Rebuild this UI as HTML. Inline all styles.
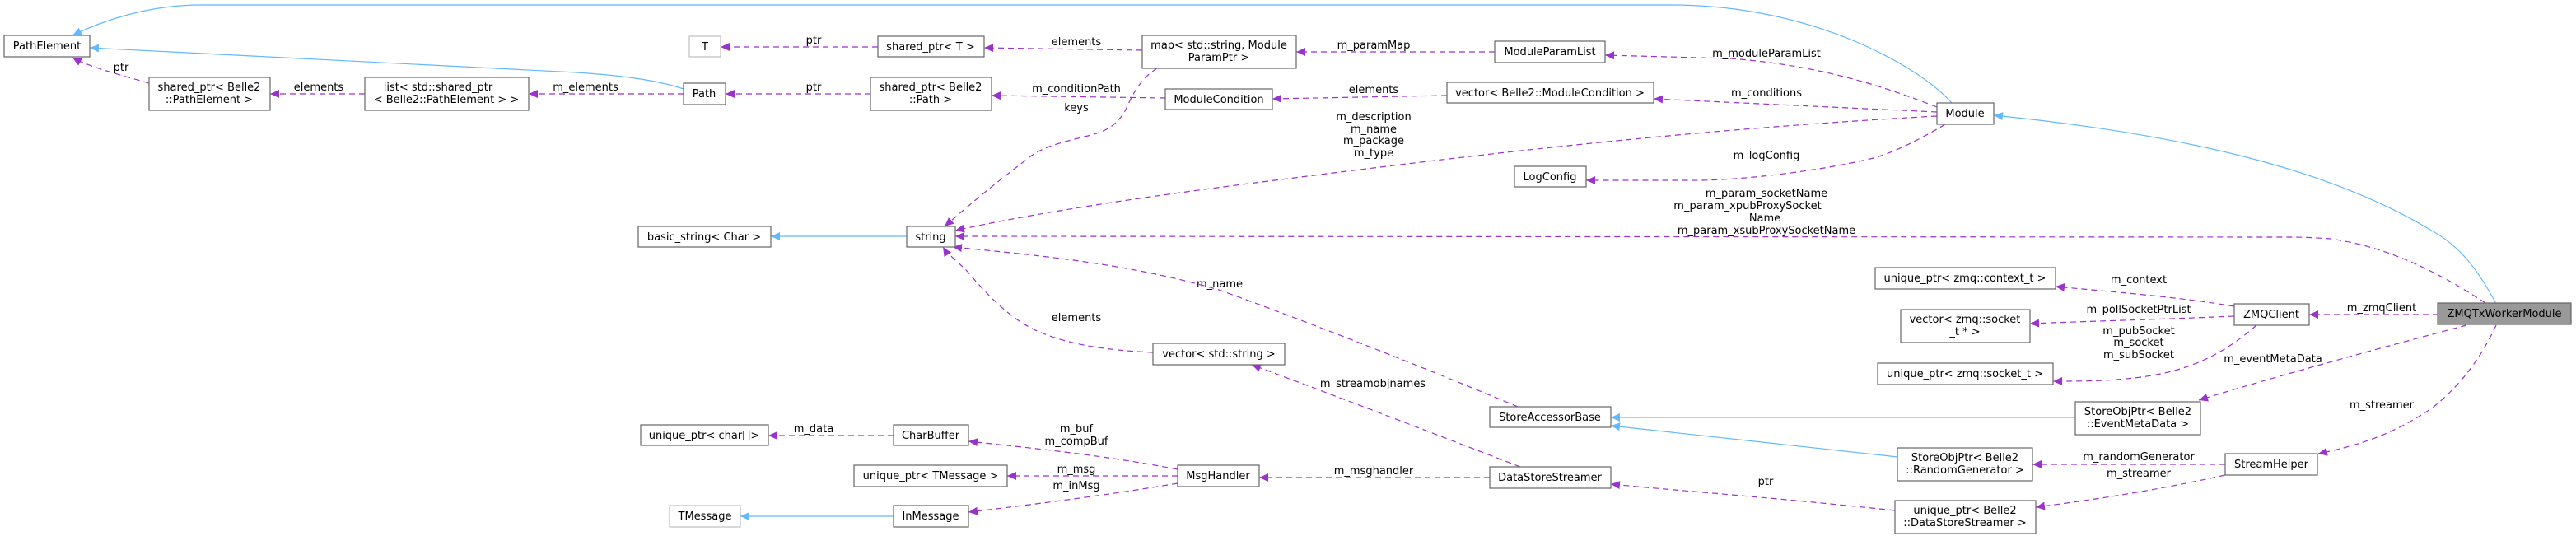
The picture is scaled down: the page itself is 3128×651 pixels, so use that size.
<!DOCTYPE html>
<html><head><meta charset="utf-8"><style>
html,body{margin:0;padding:0;background:#fff;}
svg{display:block;}
text{font-family:"DejaVu Sans","Liberation Sans",sans-serif;font-size:13px;fill:#000;}
.n{fill:#fff;stroke:#666;stroke-width:1.2;}
.g{fill:#fff;stroke:#bfbfbf;stroke-width:1.2;}
.b{fill:none;stroke:#63b8ff;stroke-width:1.2;}
.p{fill:none;stroke:#9a32cd;stroke-width:1.2;stroke-dasharray:7,5;}
</style></head><body>
<svg width="3128" height="651" viewBox="0 0 3128 651" xmlns="http://www.w3.org/2000/svg">
<defs>
<marker id="ab" markerWidth="12" markerHeight="10" refX="11" refY="5" orient="auto" markerUnits="userSpaceOnUse"><path d="M0,0 L11,5 L0,10 z" fill="#63b8ff"/></marker>
<marker id="ap" markerWidth="12" markerHeight="10" refX="11" refY="5" orient="auto" markerUnits="userSpaceOnUse"><path d="M0,0 L11,5 L0,10 z" fill="#9a32cd"/></marker>
</defs>

<!-- blue edges -->
<path class="b" marker-end="url(#ab)" d="M2370,125 C2330,80 2200,6 2030,6 L244,6 C180,6 125,25 88,43"/>
<path class="b" marker-end="url(#ab)" d="M830,108 C800,98 760,92 700,88 L109,58"/>
<path class="b" marker-end="url(#ab)" d="M1101,287 L936,287"/>
<path class="b" marker-end="url(#ab)" d="M3031,369 C3000,310 2975,292 2944,275 C2850,220 2700,168 2421,140"/>
<path class="b" marker-end="url(#ab)" d="M2520,507 L1956,507"/>
<path class="b" marker-end="url(#ab)" d="M2304,555 L1956,517"/>
<path class="b" marker-end="url(#ab)" d="M1085,627 L899,627"/>

<!-- purple edges -->
<path class="p" marker-end="url(#ap)" d="M181,101 C150,92 110,82 88,70"/>
<path class="p" marker-end="url(#ap)" d="M443,114 L328,114"/>
<path class="p" marker-end="url(#ap)" d="M830,114 L642,114"/>
<path class="p" marker-end="url(#ap)" d="M1066,57 L875,57"/>
<path class="p" marker-end="url(#ap)" d="M1387,61 L1195,58"/>
<path class="p" marker-end="url(#ap)" d="M1057,114 L881,114"/>
<path class="p" marker-end="url(#ap)" d="M1415,119 L1204,116"/>
<path class="p" marker-end="url(#ap)" d="M1405,83 C1385,95 1375,115 1367,133 C1355,155 1340,160 1321,165 C1280,175 1262,180 1245,195 C1205,225 1170,255 1147,275"/>
<path class="p" marker-end="url(#ap)" d="M1815,63 L1574,63"/>
<path class="p" marker-end="url(#ap)" d="M1757,116 L1545,120"/>
<path class="p" marker-end="url(#ap)" d="M2352,130 C2300,110 2220,80 2101,71 L1949,67"/>
<path class="p" marker-end="url(#ap)" d="M2352,136 L2008,120"/>
<path class="p" marker-end="url(#ap)" d="M2352,141 C2000,160 1700,200 1540,220 C1380,240 1250,260 1160,280"/>
<path class="p" marker-end="url(#ap)" d="M2362,151 C2330,170 2300,185 2275,192 C2200,210 2100,220 2050,219 L1926,219"/>
<path class="p" marker-end="url(#ap)" d="M3018,368 C2960,330 2900,300 2830,290 C2800,288 2790,288 2774,288 L1160,287"/>
<path class="p" marker-end="url(#ap)" d="M1843,494 C1750,455 1600,395 1480,352 C1370,320 1260,310 1157,300"/>
<path class="p" marker-end="url(#ap)" d="M1400,428 C1330,425 1290,415 1262,403 C1230,390 1200,360 1175,330 C1160,315 1150,308 1145,300"/>
<path class="p" marker-end="url(#ap)" d="M1846,567 C1750,530 1620,480 1520,443"/>
<path class="p" marker-end="url(#ap)" d="M1085,529 L933,529"/>
<path class="p" marker-end="url(#ap)" d="M1430,570 C1340,553 1260,545 1176,536"/>
<path class="p" marker-end="url(#ap)" d="M1430,578 L1223,578"/>
<path class="p" marker-end="url(#ap)" d="M1430,587 C1340,602 1260,612 1176,622"/>
<path class="p" marker-end="url(#ap)" d="M1809,580 L1529,580"/>
<path class="p" marker-end="url(#ap)" d="M2301,620 C2150,604 2050,597 1956,588"/>
<path class="p" marker-end="url(#ap)" d="M2713,372 C2640,360 2570,355 2496,348"/>
<path class="p" marker-end="url(#ap)" d="M2713,384 C2620,388 2540,390 2465,393"/>
<path class="p" marker-end="url(#ap)" d="M2740,395 C2700,430 2660,450 2600,458 C2560,463 2530,463 2493,463"/>
<path class="p" marker-end="url(#ap)" d="M2961,382 L2804,382"/>
<path class="p" marker-end="url(#ap)" d="M2995,395 C2900,420 2760,458 2670,486"/>
<path class="p" marker-end="url(#ap)" d="M3031,395 C3010,440 2985,470 2954,495 C2910,525 2870,540 2815,551"/>
<path class="p" marker-end="url(#ap)" d="M2702,564 L2468,564"/>
<path class="p" marker-end="url(#ap)" d="M2702,577 C2620,595 2550,606 2472,616"/>

<!-- edge labels -->
<g text-anchor="middle">
<text x="147" y="86">ptr</text>
<text x="387" y="110">elements</text>
<text x="711" y="110">m_elements</text>
<text x="988" y="53">ptr</text>
<text x="1307" y="55">elements</text>
<text x="988" y="110">ptr</text>
<text x="1307" y="112">m_conditionPath</text>
<text x="1307" y="135">keys</text>
<text x="1668" y="59">m_paramMap</text>
<text x="1668" y="113">elements</text>
<text x="2145" y="69">m_moduleParamList</text>
<text x="2145" y="117">m_conditions</text>
<text x="1668" y="146">m_description</text>
<text x="1668" y="161">m_name</text>
<text x="1668" y="175">m_package</text>
<text x="1668" y="190">m_type</text>
<text x="2145" y="193">m_logConfig</text>
<text x="2145" y="239">m_param_socketName</text>
<text x="2122" y="254">m_param_xpubProxySocket</text>
<text x="2143" y="269">Name</text>
<text x="2145" y="284">m_param_xsubProxySocketName</text>
<text x="1481" y="349">m_name</text>
<text x="1307" y="390">elements</text>
<text x="1667" y="470">m_streamobjnames</text>
<text x="988" y="525">m_data</text>
<text x="1307" y="525">m_buf</text>
<text x="1307" y="540">m_compBuf</text>
<text x="1307" y="574">m_msg</text>
<text x="1307" y="594">m_inMsg</text>
<text x="1668" y="576">m_msghandler</text>
<text x="2144" y="589">ptr</text>
<text x="2597" y="344">m_context</text>
<text x="2597" y="380">m_pollSocketPtrList</text>
<text x="2597" y="406">m_pubSocket</text>
<text x="2597" y="420">m_socket</text>
<text x="2597" y="435">m_subSocket</text>
<text x="2892" y="378">m_zmqClient</text>
<text x="2760" y="440">m_eventMetaData</text>
<text x="2892" y="496">m_streamer</text>
<text x="2597" y="559">m_randomGenerator</text>
<text x="2597" y="579">m_streamer</text>
</g>

<!-- nodes -->
<g text-anchor="middle">
<rect class="n" x="5" y="43" width="104" height="26"/><text x="57" y="60">PathElement</text>
<rect class="n" x="181" y="94" width="147" height="40"/><text x="254" y="110">shared_ptr&lt; Belle2</text><text x="254" y="125">::PathElement &gt;</text>
<rect class="n" x="443" y="94" width="199" height="40"/><text x="532" y="110">list&lt; std::shared_ptr</text><text x="542" y="125">&lt; Belle2::PathElement &gt; &gt;</text>
<rect class="n" x="830" y="101" width="51" height="26"/><text x="855" y="118">Path</text>
<rect class="g" x="837" y="44" width="38" height="25"/><text x="856" y="61">T</text>
<rect class="n" x="1066" y="44" width="129" height="25"/><text x="1130" y="61">shared_ptr&lt; T &gt;</text>
<rect class="n" x="1057" y="94" width="147" height="40"/><text x="1130" y="110">shared_ptr&lt; Belle2</text><text x="1130" y="125">::Path &gt;</text>
<rect class="n" x="1387" y="43" width="187" height="40"/><text x="1480" y="59">map&lt; std::string, Module</text><text x="1480" y="74">ParamPtr &gt;</text>
<rect class="n" x="1415" y="108" width="130" height="25"/><text x="1480" y="125">ModuleCondition</text>
<rect class="n" x="775" y="275" width="161" height="25"/><text x="855" y="292">basic_string&lt; Char &gt;</text>
<rect class="n" x="1101" y="275" width="59" height="25"/><text x="1130" y="292">string</text>
<rect class="n" x="1400" y="417" width="160" height="26"/><text x="1480" y="434">vector&lt; std::string &gt;</text>
<rect class="n" x="778" y="516" width="155" height="25"/><text x="855" y="533">unique_ptr&lt; char[]&gt;</text>
<rect class="n" x="1085" y="516" width="91" height="25"/><text x="1130" y="533">CharBuffer</text>
<rect class="n" x="1037" y="565" width="186" height="26"/><text x="1130" y="582">unique_ptr&lt; TMessage &gt;</text>
<rect class="n" x="1430" y="565" width="99" height="26"/><text x="1479" y="582">MsgHandler</text>
<rect class="g" x="813" y="614" width="86" height="26"/><text x="856" y="631">TMessage</text>
<rect class="n" x="1085" y="614" width="91" height="26"/><text x="1130" y="631">InMessage</text>
<rect class="n" x="1815" y="50" width="134" height="26"/><text x="1882" y="67">ModuleParamList</text>
<rect class="n" x="1757" y="100" width="251" height="25"/><text x="1882" y="117">vector&lt; Belle2::ModuleCondition &gt;</text>
<rect class="n" x="1839" y="202" width="87" height="25"/><text x="1882" y="219">LogConfig</text>
<rect class="n" x="1809" y="494" width="147" height="25"/><text x="1882" y="511">StoreAccessorBase</text>
<rect class="n" x="1809" y="567" width="147" height="26"/><text x="1882" y="584">DataStoreStreamer</text>
<rect class="n" x="2352" y="125" width="69" height="26"/><text x="2386" y="142">Module</text>
<rect x="2960" y="368" width="162" height="26" fill="#999" stroke="#666" stroke-width="1.2"/><text x="3041" y="385">ZMQTxWorkerModule</text>
<rect class="n" x="2713" y="369" width="91" height="26"/><text x="2758" y="386">ZMQClient</text>
<rect class="n" x="2277" y="325" width="219" height="26"/><text x="2386" y="342">unique_ptr&lt; zmq::context_t &gt;</text>
<rect class="n" x="2308" y="376" width="157" height="40"/><text x="2386" y="392">vector&lt; zmq::socket</text><text x="2386" y="407">_t * &gt;</text>
<rect class="n" x="2280" y="441" width="213" height="26"/><text x="2386" y="458">unique_ptr&lt; zmq::socket_t &gt;</text>
<rect class="n" x="2520" y="488" width="152" height="40"/><text x="2596" y="504">StoreObjPtr&lt; Belle2</text><text x="2596" y="519">::EventMetaData &gt;</text>
<rect class="n" x="2304" y="544" width="164" height="40"/><text x="2386" y="560">StoreObjPtr&lt; Belle2</text><text x="2386" y="575">::RandomGenerator &gt;</text>
<rect class="n" x="2301" y="608" width="171" height="40"/><text x="2386" y="624">unique_ptr&lt; Belle2</text><text x="2386" y="639">::DataStoreStreamer &gt;</text>
<rect class="n" x="2702" y="551" width="112" height="26"/><text x="2758" y="568">StreamHelper</text>
</g>
</svg>
</body></html>
